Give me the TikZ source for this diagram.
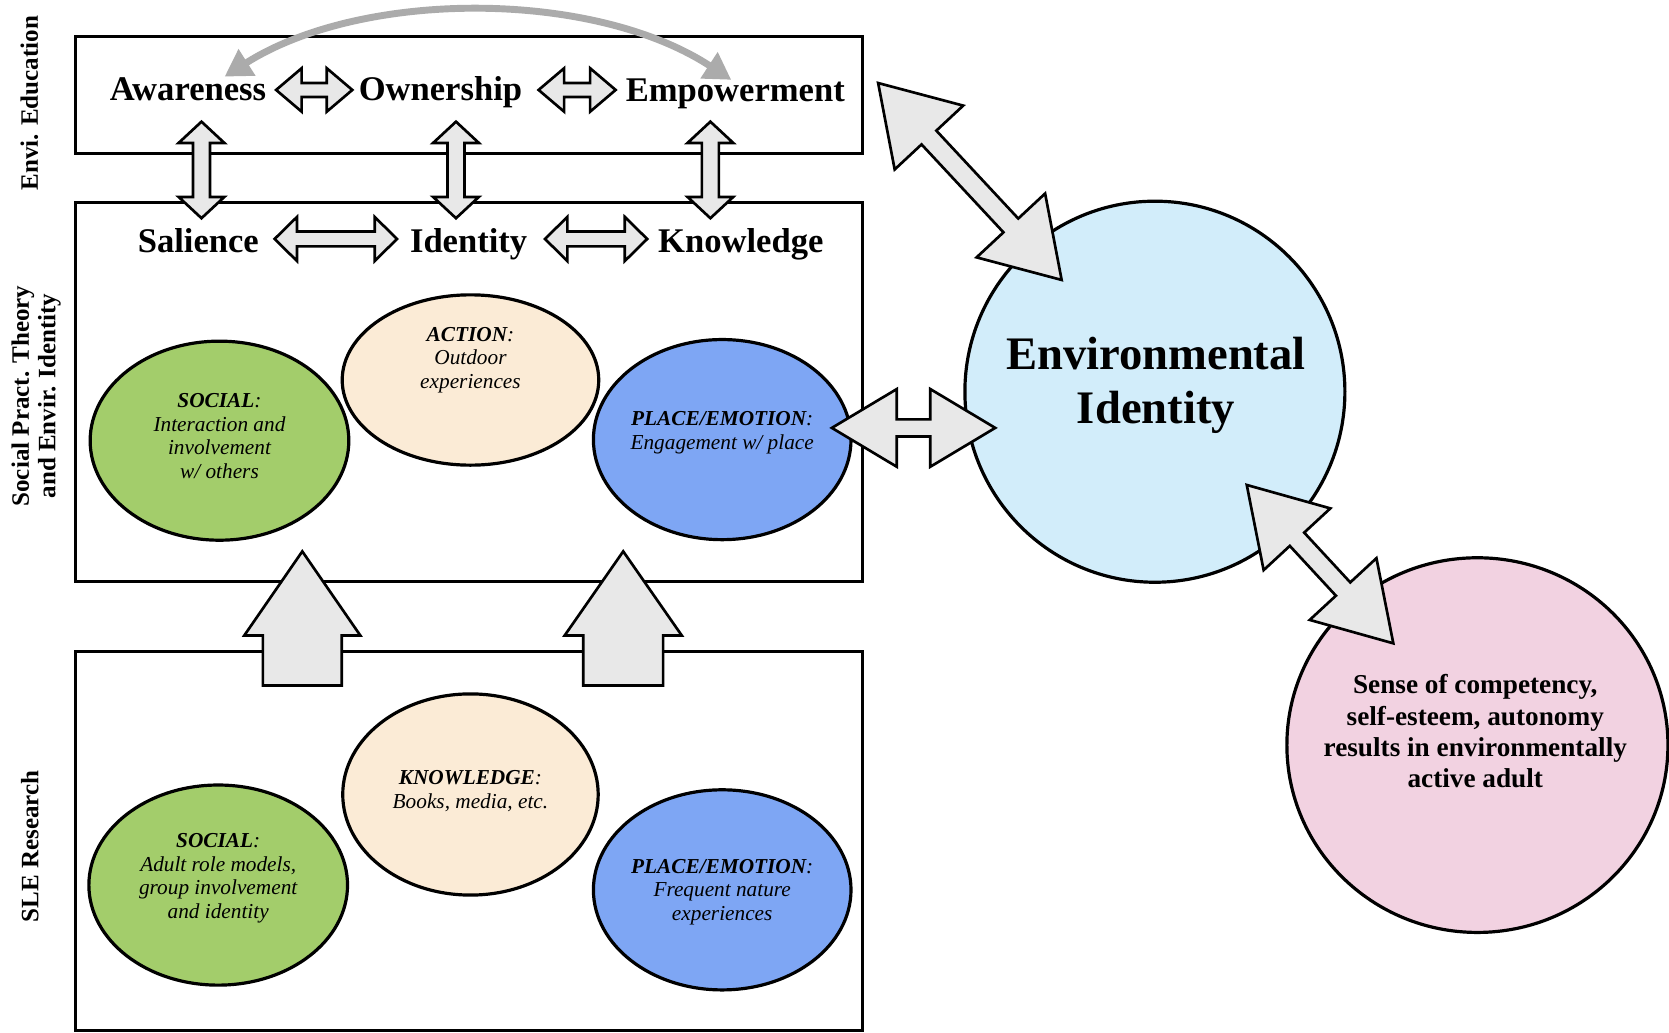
\documentclass[tikz,border=0pt]{standalone}
\usepackage{fontspec}
\setmainfont{Liberation Serif}
\usetikzlibrary{calc,shapes.geometric,arrows.meta}

\definecolor{arrowfill}{HTML}{E8E8E8}
\definecolor{curvegray}{HTML}{ABABAB}
\definecolor{sgreen}{HTML}{A3CD6B}
\definecolor{sbeige}{HTML}{FBEBD6}
\definecolor{sblue}{HTML}{7EA6F4}
\definecolor{scyan}{HTML}{D2EDFA}
\definecolor{spink}{HTML}{F2D2E1}

% double hollow arrow: #1 tip A, #2 tip B, #3 shaft half width, #4 head half width, #5 head length
\newcommand\hollowdbl[5]{%
  \coordinate (ha1) at ($(#1)!#5!(#2)$);
  \coordinate (ha2) at ($(#2)!#5!(#1)$);
  \draw[hollow] (#1) -- ($(ha1)!#4!90:(#2)$) -- ($(ha1)!#3!90:(#2)$)
    -- ($(ha2)!#3!-90:(#1)$) -- ($(ha2)!#4!-90:(#1)$) -- (#2)
    -- ($(ha2)!#4!90:(#1)$) -- ($(ha2)!#3!90:(#1)$)
    -- ($(ha1)!#3!-90:(#2)$) -- ($(ha1)!#4!-90:(#2)$) -- cycle;}
% single hollow arrow: #1 base centre, #2 tip
\newcommand\hollowsgl[5]{%
  \coordinate (hb) at ($(#2)!#5!(#1)$);
  \draw[hollow] ($(#1)!#3!90:(#2)$) -- ($(hb)!#3!-90:(#1)$) -- ($(hb)!#4!-90:(#1)$)
    -- (#2) -- ($(hb)!#4!90:(#1)$) -- ($(hb)!#3!90:(#1)$)
    -- ($(#1)!#3!-90:(#2)$) -- cycle;}

\begin{document}
\begin{tikzpicture}[x=1pt,y=-1pt,
  box/.style={draw, line width=3pt, inner sep=0pt},
  hdr/.style={font=\bfseries\fontsize{32.5}{38}\selectfont, inner sep=0pt, anchor=base},
  side/.style={font=\bfseries\fontsize{23.5}{25}\selectfont, rotate=90, align=center, inner sep=0pt},
  ell/.style={ellipse, draw, line width=3pt, inner sep=0pt},
  etext/.style={font=\itshape\fontsize{20}{22.1}\selectfont, align=center, inner sep=0pt},
  hollow/.style={draw, line width=2.5pt, fill=arrowfill, line join=miter},
  curvearrow/.style={draw=curvegray, line width=6.5pt,
     {Triangle[length=25pt,width=28pt]}-{Triangle[length=25pt,width=28pt]}}
]
\useasboundingbox[fill=white] (0,0) rectangle (1568,970);

% side labels
\node[side] (lee) at (27.6,97) {Envi. Education};
\node[side] (lsp) at (34,372) {Social Pract. Theory\\and Envir. Identity};
\node[side] (lsle) at (28,795) {SLE Research};

% boxes
\node[box, minimum width=739.5pt, minimum height=110pt] (ee) at (440.75,89.5) {};
\node[box, minimum width=739.5pt, minimum height=356pt] (sp) at (440.75,368.5) {};
\node[box, minimum width=739.5pt, minimum height=356pt] (sle) at (440.75,790.25) {};

% header words
\node[hdr] (aw) at (176.6,94) {Awareness};
\node[hdr] (ow) at (413.8,94) {Ownership};
\node[hdr] (em) at (690.8,95) {Empowerment};
\node[hdr] (sa) at (186.3,237) {Salience};
\node[hdr] (id) at (440.3,237) {Identity};
\node[hdr] (kn) at (696,237) {Knowledge};

% ellipses, middle box
\node[ell, fill=sgreen, minimum width=243pt, minimum height=187pt] (ms) at (206.2,414) {};
\node[ell, fill=sbeige, minimum width=241pt, minimum height=160pt] (ma) at (442,357) {};
\node[ell, fill=sblue, minimum width=242pt, minimum height=188pt] (mp) at (678.5,413) {};
\node[etext] (mst) at (206.2,409.8) {\textbf{SOCIAL}:\\Interaction and\\involvement\\w/ others};
\node[etext] (mat) at (442,338.3) {\textbf{ACTION}:\\Outdoor\\experiences};
\node[etext] (mpt) at (678.5,406.5) {\textbf{PLACE/EMOTION}:\\Engagement w/ place};

% ellipses, bottom box
\node[ell, fill=sgreen, minimum width=243pt, minimum height=188pt] (bs) at (205,831.5) {};
\node[ell, fill=sbeige, minimum width=240pt, minimum height=189pt] (bk) at (442,746.4) {};
\node[ell, fill=sblue, minimum width=242pt, minimum height=188pt] (bp) at (678.5,836) {};
\node[etext] (bst) at (205,825) {\textbf{SOCIAL}:\\Adult role models,\\group involvement\\and identity};
\node[etext] (bkt) at (442,743.2) {\textbf{KNOWLEDGE}:\\Books, media, etc.};
\node[etext] (bpt) at (678.5,837.8) {\textbf{PLACE/EMOTION}:\\Frequent nature\\experiences};

% right circles
\node[ellipse, draw, line width=3pt, fill=scyan, minimum width=357pt, minimum height=358pt, inner sep=0pt] (ei) at (1085,368) {};
\node[font=\bfseries\fontsize{43.8}{50}\selectfont, align=center, inner sep=0pt] (eit) at (1086,362) {Environmental\\Identity};
\node[ellipse, draw, line width=3pt, fill=spink, minimum width=358pt, minimum height=352pt, inner sep=0pt] (pk) at (1388,700) {};
\node[font=\bfseries\fontsize{25.6}{29.3}\selectfont, align=center, inner sep=0pt] (pkt) at (1386,687) {Sense of competency,\\self-esteem, autonomy\\results in environmentally\\active adult};

% arrow end points
\coordinate (h1a) at (259.4,84.5); \coordinate (h1b) at (331,84.5);
\coordinate (h2a) at (506,84.5);   \coordinate (h2b) at (578.4,84.5);
\coordinate (h3a) at (258,224.5);  \coordinate (h3b) at (373,224.5);
\coordinate (h4a) at (512,224.5);  \coordinate (h4b) at (608,224.5);
\coordinate (v1a) at (189.3,114.3); \coordinate (v1b) at (189.3,205);
\coordinate (v2a) at (428.4,114.3); \coordinate (v2b) at (428.4,205);
\coordinate (v3a) at (667.4,114.3); \coordinate (v3b) at (667.4,205);
\coordinate (u1a) at (284,644); \coordinate (u1b) at (284,518);
\coordinate (u2a) at (585.5,644); \coordinate (u2b) at (585.5,518);
\coordinate (d1a) at (825,78); \coordinate (d1b) at (997.4,263);
\coordinate (d2a) at (781.5,402); \coordinate (d2b) at (935,402);
\coordinate (d3a) at (1171.3,455.6); \coordinate (d3b) at (1309,604.4);
\coordinate (cL) at (211,72); \coordinate (cR) at (687,75);

% small hollow arrows
\hollowdbl{h1a}{h1b}{6.6pt}{20.4pt}{24pt}
\hollowdbl{h2a}{h2b}{6.6pt}{20.4pt}{24pt}
\hollowdbl{h3a}{h3b}{7pt}{20.7pt}{21pt}
\hollowdbl{h4a}{h4b}{7pt}{20.7pt}{21pt}
\hollowdbl{v1a}{v1b}{8pt}{21.5pt}{20pt}
\hollowdbl{v2a}{v2b}{8pt}{21.5pt}{20pt}
\hollowdbl{v3a}{v3b}{8pt}{21.5pt}{20pt}

% big up arrows
\hollowsgl{u1a}{u1b}{37pt}{54.5pt}{79pt}
\hollowsgl{u2a}{u2b}{37.5pt}{55pt}{79pt}

% big double arrows
\hollowdbl{d1a}{d1b}{9.5pt}{44pt}{70pt}
\hollowdbl{d2a}{d2b}{8pt}{36.5pt}{61pt}
\hollowdbl{d3a}{d3b}{9.2pt}{42.7pt}{69.5pt}

% grey curved arrow
\draw[curvearrow] (cL) .. controls (340,-10) and (557,-10) .. (cR);
\end{tikzpicture}
\end{document}
